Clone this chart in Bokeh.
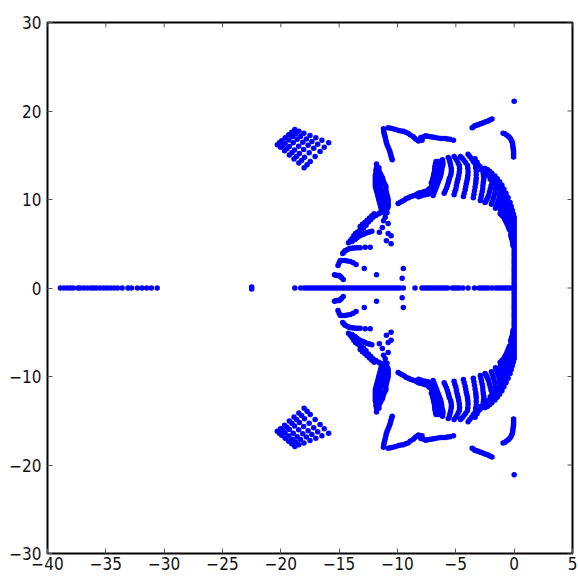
from bokeh.plotting import figure
from bokeh.models import ColumnDataSource, FixedTicker, Range1d
from bokeh.embed import file_html
from bokeh.resources import INLINE

x_ticks = [-40, -35, -30, -25, -20, -15, -10, -5, 0, 5]
y_ticks = [-30, -20, -10, 0, 10, 20, 30]

# eigenvalues on the real axis
real_left = [-38.9, -38.6, -38.3, -38.05, -37.8, -37.4, -37.2, -36.9, -36.6, -36.3, -36.05, -35.8, -35.5,
             -35.2, -34.9, -34.6, -34.3, -34.0, -33.6, -33.1, -32.8, -32.3, -31.9, -31.5, -31.1, -30.6]
real_mid = [-18.8, -18.3, -18.0, -17.8, -17.6, -17.4, -17.2, -17.0, -16.8, -16.6, -16.4, -16.2, -16.0, -15.8,
            -15.6, -15.4, -15.2, -15.0, -14.8, -14.6, -14.4, -14.2, -14.0, -13.8, -13.6, -13.4, -13.2, -13.0,
            -12.8, -12.6, -12.4, -12.2, -12.0, -11.8, -11.6, -11.4, -11.2, -11.0, -10.8, -10.6, -10.4, -10.2,
            -10.0, -9.8, -9.5]
real_right = [-8.5, -7.9, -7.7, -7.5, -7.3, -7.1, -6.9, -6.7, -6.5, -6.3, -6.1, -5.9, -5.7, -5.3, -5.1, -4.9,
              -4.7, -4.4, -3.95, -3.4, -3.0, -2.8, -2.6, -2.4, -2.2, -1.9, -1.6, -1.4, -1.2, -1.0, -0.8, -0.6,
              -0.4, -0.2, 0.0]

# conjugate pairs: only the upper half is listed, the lower half is its mirror
single_points = [(-22.5, 0.1), (0.0, 21.1)]

diamond = [
    (-20.3, 16.2), (-20.02, 15.89), (-19.68, 15.5), (-19.27, 15.03), (-18.87, 14.59), (-18.46, 14.12), (-18.0, 13.6),
    (-20.12, 16.4), (-19.84, 16.1), (-19.48, 15.73), (-19.05, 15.29), (-18.65, 14.87), (-18.22, 14.42), (-17.75, 13.93),
    (-19.93, 16.63), (-19.64, 16.35), (-19.27, 16.0), (-18.83, 15.58), (-18.41, 15.19), (-17.97, 14.77), (-17.48, 14.3),
    (-19.63, 16.97), (-19.32, 16.72), (-18.94, 16.4), (-18.47, 16.02), (-18.04, 15.66), (-17.57, 15.29), (-17.06, 14.87),
    (-19.33, 17.31), (-19.01, 17.08), (-18.6, 16.8), (-18.12, 16.46), (-17.66, 16.14), (-17.18, 15.8), (-16.64, 15.43),
    (-19.07, 17.59), (-18.74, 17.39), (-18.32, 17.13), (-17.81, 16.83), (-17.34, 16.54), (-16.84, 16.23), (-16.28, 15.89),
    (-18.8, 17.9), (-18.45, 17.72), (-18.02, 17.5), (-17.5, 17.23), (-17.0, 16.97), (-16.48, 16.7), (-15.9, 16.4),
]

top_run = [(-10.8, 18.1), (-10.6, 18.05), (-10.4, 18.0), (-10.15, 17.9), (-9.9, 17.8), (-9.7, 17.75), (-9.5, 17.7),
           (-9.3, 17.6), (-9.1, 17.5), (-8.9, 17.3), (-8.65, 17.1), (-8.5, 16.9), (-8.35, 16.75), (-8.2, 16.6),
           (-8.0, 17.0), (-7.9, 16.7), (-7.75, 17.1), (-7.6, 17.2), (-7.4, 17.15), (-7.2, 17.1), (-7.0, 17.05),
           (-6.8, 17.0), (-6.55, 16.95), (-6.3, 16.9), (-6.1, 16.9), (-5.9, 16.9), (-5.7, 16.85), (-5.5, 16.8),
           (-5.2, 16.7)]
top_leg = [(-11.2, 18.0), (-11.18, 17.75), (-11.15, 17.5), (-11.1, 17.25), (-11.05, 17.0), (-11.0, 16.7),
           (-10.95, 16.4), (-10.88, 16.15), (-10.8, 15.9), (-10.72, 15.65), (-10.65, 15.4), (-10.6, 15.15),
           (-10.55, 14.9), (-10.5, 14.7), (-10.45, 14.5)]
top_right_run = [(-3.6, 18.1), (-3.48, 18.22), (-3.35, 18.35), (-3.22, 18.4), (-3.1, 18.45), (-2.95, 18.52),
                 (-2.8, 18.6), (-2.65, 18.68), (-2.5, 18.75), (-2.35, 18.82), (-2.2, 18.9), (-2.05, 19.0), (-1.9, 19.1)]
top_right_hook = [(-0.95, 17.5), (-0.8, 17.42), (-0.65, 17.3), (-0.5, 17.15), (-0.4, 17.0), (-0.3, 16.85),
                  (-0.22, 16.6), (-0.15, 16.4), (-0.12, 16.15), (-0.1, 15.9), (-0.07, 15.65), (-0.05, 15.4),
                  (-0.05, 15.1), (-0.05, 14.8)]

spindle = [(-11.8, 14.0), (-11.8, 13.6), (-11.6, 13.6), (-11.85, 13.3), (-11.6, 13.3), (-11.85, 13.0), (-11.5, 13.0),
           (-11.9, 12.75), (-11.6, 12.75), (-11.4, 12.75), (-11.9, 12.5), (-11.6, 12.5), (-11.3, 12.5),
           (-11.9, 12.25), (-11.55, 12.25), (-11.25, 12.25), (-11.9, 12.0), (-11.5, 12.0), (-11.2, 12.0),
           (-11.9, 11.75), (-11.5, 11.75), (-11.1, 11.75), (-11.9, 11.5), (-11.5, 11.5), (-11.0, 11.5),
           (-11.85, 11.25), (-11.45, 11.25), (-11.0, 11.25), (-11.8, 11.0), (-11.4, 11.0), (-11.0, 11.0),
           (-11.75, 10.75), (-11.35, 10.75), (-10.95, 10.75), (-11.7, 10.5), (-11.3, 10.5), (-10.9, 10.5),
           (-11.65, 10.25), (-11.25, 10.25), (-10.85, 10.25), (-11.6, 10.0), (-11.2, 10.0), (-10.8, 10.0),
           (-11.55, 9.75), (-11.15, 9.75), (-10.8, 9.75), (-11.5, 9.5), (-11.1, 9.5), (-10.8, 9.5),
           (-11.45, 9.25), (-11.1, 9.25), (-10.8, 9.25), (-11.4, 9.0), (-11.1, 9.0), (-10.85, 9.0),
           (-11.5, 8.5), (-11.1, 8.5), (-10.9, 8.5)]
sweep_a = [(-11.2, 8.75), (-11.4, 8.55), (-11.6, 8.4), (-11.85, 8.2), (-12.1, 8.0), (-12.3, 7.7), (-12.5, 7.45),
           (-12.7, 7.1), (-12.9, 6.8), (-13.1, 6.65), (-13.25, 6.5), (-13.45, 6.3), (-13.6, 6.15), (-13.75, 5.9),
           (-13.9, 5.6), (-14.05, 5.35), (-14.2, 5.1),
           (-12.0, 8.4), (-12.2, 8.15), (-12.4, 7.9), (-12.6, 7.65), (-12.8, 7.4), (-13.0, 7.2), (-13.2, 6.95)]
sweep_b = [(-12.2, 6.4), (-12.35, 6.35), (-12.5, 6.3), (-12.65, 6.25), (-12.8, 6.15), (-12.95, 6.05), (-13.15, 5.95),
           (-13.3, 5.85), (-13.45, 5.7), (-13.6, 5.55), (-13.7, 5.45), (-13.9, 5.25)]
sweep_c = [(-14.7, 3.9), (-14.6, 4.05), (-14.5, 4.2), (-14.35, 4.3), (-14.2, 4.4), (-14.05, 4.45), (-13.9, 4.5),
           (-13.75, 4.52), (-13.6, 4.55), (-13.4, 4.55), (-13.2, 4.55), (-12.77, 4.6), (-12.34, 4.6)]
sweep_d = [(-15.1, 2.55), (-15.0, 2.85), (-14.9, 3.1), (-14.7, 3.1), (-14.5, 3.1), (-14.3, 3.05), (-14.05, 3.0),
           (-13.8, 2.85), (-13.55, 2.65), (-12.85, 2.2), (-11.8, 1.5)]
sweep_e = [(-15.4, 1.5), (-15.3, 1.45), (-15.2, 1.4), (-15.1, 1.4), (-15.0, 1.4), (-14.9, 1.3), (-14.8, 1.2),
           (-14.65, 0.95)]
dots = [(-9.5, 2.2), (-9.6, 1.1), (-11.3, 6.85), (-11.55, 6.3), (-10.8, 6.15), (-10.55, 5.9), (-10.95, 5.35),
        (-10.55, 5.0), (-11.05, 8.0), (-10.8, 7.3), (-11.2, 7.6)]

tail = [(-9.95, 9.55), (-9.75, 9.7), (-9.6, 9.8), (-9.4, 9.95), (-9.25, 10.1), (-9.05, 10.2), (-8.9, 10.3),
        (-8.7, 10.4), (-8.55, 10.45), (-8.35, 10.6), (-8.2, 10.7), (-8.05, 10.75), (-7.9, 10.8), (-7.7, 10.9),
        (-7.45, 11.0), (-7.2, 11.25), (-7.0, 11.5), (-6.85, 11.65), (-6.7, 11.8),
        (-8.2, 10.3), (-8.0, 10.4), (-7.8, 10.5), (-7.6, 10.55), (-7.4, 10.6), (-7.2, 10.75), (-7.0, 10.9)]

band_1 = [(-6.7, 14.3), (-6.75, 14.0), (-6.8, 13.7), (-6.82, 13.4), (-6.85, 13.05), (-6.9, 12.8), (-6.95, 12.5),
          (-7.0, 12.2), (-7.1, 11.9),
          (-6.5, 14.3), (-6.5, 13.9), (-6.5, 13.5), (-6.55, 13.2), (-6.6, 12.9), (-6.65, 12.6), (-6.7, 12.25),
          (-6.82, 12.0), (-6.95, 11.7), (-7.1, 11.45), (-7.3, 11.2)]
band_2 = [(-6.15, 14.5), (-6.12, 14.25), (-6.1, 14.0), (-6.15, 13.75), (-6.2, 13.5), (-6.22, 13.25), (-6.25, 13.0),
          (-6.3, 12.75), (-6.35, 12.5), (-6.42, 12.25), (-6.5, 12.0), (-6.58, 11.75), (-6.65, 11.5), (-6.72, 11.25),
          (-6.8, 11.0), (-6.88, 10.7), (-6.95, 10.45)]
band_3 = [(-5.65, 14.75), (-5.55, 14.45), (-5.5, 14.2), (-5.45, 13.9), (-5.4, 13.6), (-5.38, 13.3), (-5.4, 13.0),
          (-5.45, 12.7), (-5.55, 12.4), (-5.6, 12.15), (-5.65, 11.9), (-5.72, 11.6), (-5.8, 11.3), (-5.9, 11.0),
          (-6.0, 10.7)]
band_4 = [(-5.15, 14.85), (-5.0, 14.6), (-4.9, 14.4), (-4.8, 14.1), (-4.7, 13.85), (-4.68, 13.5), (-4.7, 13.1),
          (-4.75, 12.75), (-4.8, 12.4), (-4.85, 12.15), (-4.9, 11.9), (-4.95, 11.55), (-5.0, 11.2), (-5.08, 10.9),
          (-5.15, 10.55)]
band_5 = [(-4.6, 14.85), (-4.45, 14.65), (-4.3, 14.4), (-4.15, 14.15), (-4.0, 13.85), (-3.97, 13.5), (-3.95, 13.1),
          (-3.97, 12.75), (-4.0, 12.4), (-4.05, 12.1), (-4.1, 11.8), (-4.15, 11.45), (-4.2, 11.1), (-4.28, 10.7),
          (-4.35, 10.35)]
band_6 = [(-3.95, 15.1), (-3.8, 14.85), (-3.65, 14.6), (-3.5, 14.3), (-3.35, 14.05), (-3.3, 13.6), (-3.25, 13.2),
          (-3.25, 12.8), (-3.25, 12.4), (-3.28, 12.1), (-3.3, 11.8), (-3.35, 11.4), (-3.4, 11.0), (-3.45, 10.6),
          (-3.5, 10.2)]
band_7 = [(-3.35, 14.6), (-3.18, 14.2), (-3.0, 13.8), (-2.82, 13.35), (-2.65, 12.95), (-2.62, 12.65), (-2.6, 12.4),
          (-2.62, 12.15), (-2.65, 11.9), (-2.68, 11.55), (-2.7, 11.2), (-2.75, 10.85), (-2.8, 10.5), (-2.85, 10.2),
          (-2.9, 9.9)]
band_8 = [(-2.5, 13.5), (-2.35, 13.1), (-2.2, 12.7), (-2.05, 12.3), (-1.9, 11.9), (-1.98, 11.55), (-2.05, 11.2),
          (-2.12, 10.85), (-2.2, 10.45), (-2.28, 10.2), (-2.35, 10.0), (-2.42, 9.8), (-2.5, 9.65)]
band_9 = [(-2.05, 13.05), (-1.92, 12.65), (-1.8, 12.3), (-1.68, 11.95), (-1.55, 11.6), (-1.6, 11.2), (-1.65, 10.8),
          (-1.72, 10.45), (-1.8, 10.1), (-1.88, 9.75), (-1.95, 9.45)]
band_10 = [(-1.6, 12.4), (-1.5, 12.05), (-1.4, 11.7), (-1.3, 11.35), (-1.2, 11.0), (-1.25, 10.6), (-1.3, 10.2),
           (-1.38, 9.85), (-1.45, 9.55), (-1.52, 9.25), (-1.6, 9.0)]

outer_edge = [(-2.85, 13.6), (-2.55, 13.5), (-2.3, 13.4), (-2.1, 13.2), (-1.9, 12.95), (-1.65, 12.65), (-1.45, 12.35),
              (-1.25, 12.0), (-1.05, 11.6), (-0.88, 11.15), (-0.7, 10.7), (-0.52, 10.2), (-0.35, 9.65), (-0.25, 9.2),
              (-0.15, 8.75), (-0.07, 8.35), (0.0, 8.0)]
wedge_1 = [(-1.3, 11.5), (-1.12, 11.1), (-0.95, 10.7), (-0.97, 10.3), (-1.0, 9.9), (-1.07, 9.55), (-1.15, 9.2),
           (-1.18, 8.8), (-1.2, 8.4), (-1.05, 8.2)]
wedge_2 = [(-1.0, 11.2), (-0.85, 10.75), (-0.7, 10.3), (-0.7, 9.9), (-0.7, 9.5), (-0.78, 9.1), (-0.85, 8.7),
           (-0.88, 8.35), (-0.9, 8.0), (-0.8, 7.75)]
wedge_3 = [(-0.7, 10.4), (-0.58, 10.05), (-0.45, 9.7), (-0.48, 9.35), (-0.5, 9.0), (-0.55, 8.6), (-0.6, 8.2),
           (-0.65, 7.85), (-0.7, 7.5), (-0.6, 7.2)]
wedge_4 = [(-0.4, 9.3), (-0.32, 9.0), (-0.25, 8.7), (-0.28, 8.35), (-0.3, 8.0), (-0.35, 7.65), (-0.4, 7.3),
           (-0.45, 7.1), (-0.5, 6.9), (-0.42, 6.6)]
wedge_5 = [(-0.15, 8.2), (-0.12, 7.85), (-0.1, 7.5), (-0.12, 7.2), (-0.15, 6.9), (-0.2, 6.65), (-0.25, 6.4),
           (-0.28, 6.15), (-0.3, 5.9), (-0.22, 5.6), (-0.15, 5.3), (-0.12, 5.05), (-0.1, 4.8)]
right_edge = [(0.0, 7.7), (0.0, 7.4), (0.0, 7.1), (0.0, 6.8), (0.0, 6.5), (0.0, 6.2), (0.0, 5.9), (0.0, 5.6),
              (0.0, 5.3), (0.0, 5.0), (0.0, 4.7), (0.0, 4.4), (0.0, 4.1), (0.0, 3.8), (0.0, 3.5), (0.0, 3.2),
              (0.0, 2.9), (0.0, 2.6), (0.0, 2.3), (0.0, 2.0), (0.0, 1.7), (0.0, 1.4), (0.0, 1.1), (0.0, 0.8),
              (0.0, 0.5), (0.0, 0.2)]

upper = (single_points + diamond + top_run + top_leg + top_right_run + top_right_hook + spindle + sweep_a + sweep_b
         + sweep_c + sweep_d + sweep_e + dots + tail + band_1 + band_2 + band_3 + band_4 + band_5 + band_6 + band_7
         + band_8 + band_9 + band_10 + outer_edge + wedge_1 + wedge_2 + wedge_3 + wedge_4 + wedge_5 + right_edge)

real_all = real_left + real_mid + real_right
xs = [q[0] for q in upper] + [q[0] for q in upper] + real_all
ys = [q[1] for q in upper] + [-q[1] for q in upper] + [0.0] * len(real_all)
source = ColumnDataSource(data=dict(x=xs, y=ys))

FONT = "DejaVu Sans Condensed"
TICK_COLOR = "#555555"

p = figure(width=577, height=577, x_range=Range1d(-40, 5), y_range=Range1d(-30, 30),
           output_backend="svg", toolbar_location=None, tools="",
           min_border_left=47, min_border_right=5, min_border_top=22, min_border_bottom=24,
           frame_width=525, frame_height=531, background_fill_color="white")
p.grid.visible = False
p.outline_line_color = "black"
p.outline_line_width = 2

p.scatter("x", "y", source=source, marker="circle", size=5.5, fill_color="#0000ff", line_color="#0000ff", line_width=0)

for axis, ticks in ((p.xaxis[0], x_ticks), (p.yaxis[0], y_ticks)):
    axis.ticker = FixedTicker(ticks=ticks)
    axis.major_label_text_font = FONT
    axis.major_label_text_font_size = "17px"
    axis.major_label_text_color = "#111111"
    axis.major_tick_in = 5
    axis.major_tick_out = 0
    axis.major_tick_line_color = TICK_COLOR
    axis.major_tick_line_width = 1
    axis.minor_tick_line_color = None
    axis.axis_line_color = None
p.xaxis[0].major_label_standoff = 3
p.yaxis[0].major_label_standoff = 6

# matching ticks on the top and right sides, cut from the tick lists above
p.segment(x0=x_ticks, y0=[30] * len(x_ticks), x1=x_ticks, y1=[29.45] * len(x_ticks),
          line_color=TICK_COLOR, line_width=1)
p.segment(x0=[5] * len(y_ticks), y0=y_ticks, x1=[4.57] * len(y_ticks), y1=y_ticks,
          line_color=TICK_COLOR, line_width=1)

open("out.html", "w").write(file_html(p, INLINE))
